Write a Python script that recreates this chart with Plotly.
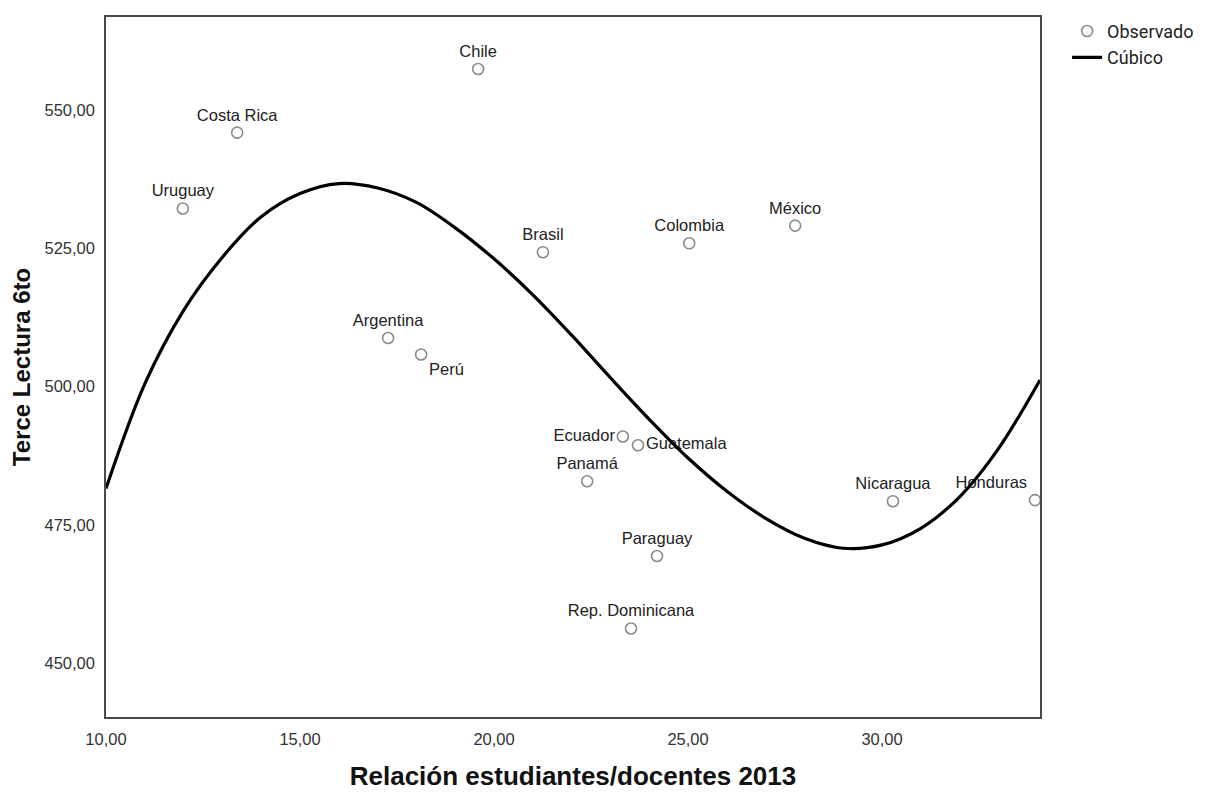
import plotly.graph_objects as go

countries = ["Chile", "Costa Rica", "Uruguay", "Brasil", "Colombia", "México",
             "Argentina", "Perú", "Ecuador", "Guatemala", "Panamá", "Paraguay",
             "Rep. Dominicana", "Nicaragua", "Honduras"]
ratio = [19.59, 13.38, 11.98, 21.26, 25.03, 27.76,
         17.27, 18.12, 23.32, 23.71, 22.40, 24.20,
         23.53, 30.28, 33.94]
lectura = [557.4, 545.9, 532.2, 524.3, 525.9, 529.1,
           508.8, 505.8, 491.0, 489.4, 482.9, 469.4,
           456.3, 479.3, 479.5]
label_pos = ["top center", "top center", "top center", "top center", "top center", "top center",
             "top center", "bottom right", "middle left", "middle right", "top center", "top center",
             "top center", "top center", "top left"]

# Cubic fit curve
curve_x = [10, 11, 12, 13, 14, 15, 16, 17, 18, 19, 20, 21, 22,
           23, 24, 25, 26, 27, 28, 29, 30, 31, 32, 33, 34.07]
curve_y = [481.6, 500.5, 513.8, 523.4, 530.7, 534.9, 536.7, 535.9, 533.3, 528.7, 523.1, 516.6, 509.3,
           501.6, 494.1, 487.1, 481.1, 476.2, 472.6, 470.8, 471.4, 474.4, 480.1, 488.8, 501.2]

x_ticks = [10, 15, 20, 25, 30]
x_ticktext = ["10,00", "15,00", "20,00", "25,00", "30,00"]
y_ticks = [450, 475, 500, 525, 550]
y_ticktext = ["450,00", "475,00", "500,00", "525,00", "550,00"]

FONT = "Liberation Sans, Arial"

fig = go.Figure()
fig.add_trace(go.Scatter(
    x=ratio, y=lectura, mode="markers+text", name="Observado", legendgroup="a",
    text=countries, textposition=label_pos,
    textfont=dict(family=FONT, size=16.5, color="#222222"),
    marker=dict(symbol="circle-open", size=11, color="#8c8c8c", line=dict(width=1.6, color="#8c8c8c")),
    cliponaxis=False,
))
fig.add_trace(go.Scatter(
    x=curve_x, y=curve_y, mode="lines", name="Cúbico", legendgroup="b",
    line=dict(color="black", width=3.2, shape="spline", smoothing=1.0),
))

axis_common = dict(showgrid=False, zeroline=False, showline=True, mirror=True,
                   linecolor="#4a4a4a", linewidth=1.5, ticks="",
                   tickfont=dict(family=FONT, size=16.5, color="#333333"))

fig.update_layout(
    width=1210, height=796,
    margin=dict(l=98, r=178, t=5, b=87),
    paper_bgcolor="white", plot_bgcolor="white",
    xaxis=dict(range=[10, 34.07], tickvals=x_ticks, ticktext=x_ticktext,
               ticklabelstandoff=6,
               title=dict(text="<b>Relación estudiantes/docentes 2013</b>",
                          font=dict(family=FONT, size=26, color="#111111"),
                          standoff=20),
               **axis_common),
    yaxis=dict(range=[440.3, 566.8], tickvals=y_ticks, ticktext=y_ticktext,
               ticklabelstandoff=6,
               title=dict(text="<b>Terce Lectura 6to</b>",
                          font=dict(family=FONT, size=24, color="#111111"),
                          standoff=12),
               **axis_common),
    legend=dict(x=1.029, y=1.006, xanchor="left", yanchor="top",
                font=dict(family="Roboto", size=18, color="#222222"),
                bgcolor="rgba(0,0,0,0)", traceorder="grouped", tracegroupgap=0,
                itemwidth=30),
    showlegend=True,
)

fig.write_html("out.html")
